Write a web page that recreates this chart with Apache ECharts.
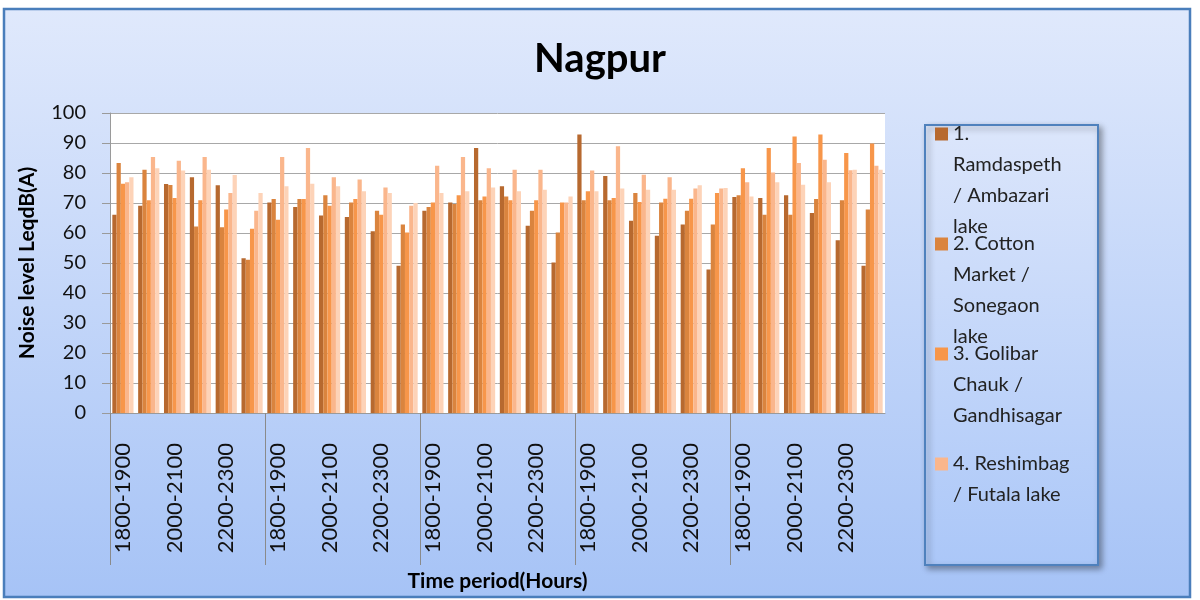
<!DOCTYPE html>
<html>
<head>
<meta charset="utf-8">
<script src="https://cdn.jsdelivr.net/npm/echarts@6/dist/echarts.min.js"></script>
<style>html,body{margin:0;padding:0;background:#fff}#c{width:1200px;height:600px}</style>
</head>
<body>
<div id="c"></div>
<script>
// ---- data ----
const timePeriods = ['1800-1900', '1900-2000', '2000-2100', '2100-2200', '2200-2300', '2300-2400'];
const groupCount = 5;
const seriesNames = [
  '1. Ramdaspeth / Ambazari lake',
  '2. Cotton Market / Sonegaon lake',
  '3. Golibar Chauk / Gandhisagar',
  '4. Reshimbag / Futala lake',
  '5.'
];
const legendLines = [
  ['1.', 'Ramdaspeth', '/ Ambazari', 'lake'],
  ['2. Cotton', 'Market /', 'Sonegaon', 'lake'],
  ['3. Golibar', 'Chauk /', 'Gandhisagar', ' '],
  ['4. Reshimbag', '/ Futala lake', ' ', ' ']
];
const series1 = [66.1, 69.1, 76.3, 78.6, 75.9, 51.6, 70.2, 68.7, 65.8, 65.3, 60.6, 49.1, 67.4, 70.2, 88.3, 75.6, 62.4, 50.2, 92.8, 79.0, 64.1, 59.1, 62.8, 47.8, 72.0, 71.7, 72.6, 66.7, 57.6, 49.1];
const series2 = [83.3, 81.1, 76.0, 62.2, 61.9, 51.1, 71.3, 71.3, 72.6, 70.2, 67.4, 62.8, 68.7, 69.7, 70.9, 72.2, 67.4, 60.2, 70.9, 70.9, 73.3, 70.2, 67.4, 62.8, 72.6, 66.1, 66.1, 71.3, 70.9, 67.8];
const series3 = [76.4, 70.9, 71.7, 70.9, 67.8, 61.4, 64.4, 71.3, 69.1, 71.3, 66.1, 60.2, 70.2, 72.6, 72.2, 70.9, 70.9, 70.2, 73.9, 71.7, 70.3, 71.4, 71.4, 73.3, 81.6, 88.3, 92.2, 92.8, 86.7, 89.8];
const series4 = [76.9, 85.3, 84.1, 85.3, 73.3, 67.4, 85.3, 88.3, 78.6, 77.8, 75.2, 69.1, 82.4, 85.3, 81.6, 81.1, 81.1, 70.2, 80.8, 88.9, 79.4, 78.6, 74.8, 74.8, 76.9, 80.2, 83.3, 84.4, 80.9, 82.4];
const series5 = [78.6, 81.6, 80.8, 81.1, 79.3, 73.3, 75.6, 76.4, 75.6, 73.9, 73.3, 70.0, 73.3, 73.9, 75.2, 73.9, 74.4, 72.2, 73.9, 74.8, 74.4, 74.4, 75.9, 75.0, 72.2, 76.9, 76.1, 76.9, 81.1, 81.1];
const yTicks = [0, 10, 20, 30, 40, 50, 60, 70, 80, 90, 100];

// ---- build ----
const categories = [];
for (let g = 0; g < groupCount; g++) timePeriods.forEach(t => categories.push(t));
const allSeries = [series1, series2, series3, series4, series5];
const colors = ['#B7692F', '#DA843E', '#F7964A', '#FAB68C', '#FDD3B8'];
const FONT = 'Lato, "Open Sans", sans-serif';
// leading blank lines so the first text line sits level with the legend marker
const legendLabels = legendLines.map(l => [' ', ' ', ' '].concat(l).join('\n'));

const chart = echarts.init(document.getElementById('c'), null, {renderer: 'canvas'});
const bgGrad = new echarts.graphic.LinearGradient(0, 0, 0, 1, [
  {offset: 0, color: '#E0E9FC'}, {offset: 1, color: '#A6C3F6'}
]);
const legendGrad = new echarts.graphic.LinearGradient(0, 0, 0, 1, [
  {offset: 0, color: '#DCE6FB'}, {offset: 1, color: '#ABC7F8'}
]);

chart.setOption({
  animation: false,
  textStyle: {fontFamily: FONT},
  graphic: [
    {type: 'rect', z: -20, shape: {x: 4, y: 9, width: 1186, height: 588},
     style: {fill: bgGrad, stroke: '#4A7EBB', lineWidth: 2.5}},
    {type: 'rect', z: -10, shape: {x: 925, y: 125, width: 173, height: 440},
     style: {fill: legendGrad, stroke: '#4F81BD', lineWidth: 2,
             shadowBlur: 6, shadowColor: 'rgba(0,0,0,0.35)', shadowOffsetX: 3, shadowOffsetY: 3}}
  ],
  title: {
    text: 'Nagpur', left: 'center', top: 34,
    textStyle: {fontFamily: FONT, fontSize: 40, fontWeight: 'bold', color: '#000'}
  },
  legend: {
    data: seriesNames.slice(0, 4),
    orient: 'vertical',
    left: 930, top: 20.5,
    itemWidth: 13, itemHeight: 13, itemGap: -107,
    icon: 'rect',
    selectedMode: false,
    formatter: name => legendLabels[seriesNames.indexOf(name)],
    textStyle: {fontFamily: FONT, fontSize: 20, lineHeight: 31, color: '#222'}
  },
  grid: [
    {left: 110, right: 315, top: 113, bottom: 187, show: true, backgroundColor: '#fff', borderWidth: 0},
    {left: 110, width: 620, top: 113, bottom: 187, show: false}
  ],
  xAxis: [
    {
      type: 'category', data: categories, gridIndex: 0,
      name: 'Time period(Hours)', nameLocation: 'middle', nameGap: 158,
      nameTextStyle: {fontFamily: FONT, fontSize: 21, fontWeight: 'bold', color: '#000'},
      axisLine: {lineStyle: {color: '#9a9a9a', width: 1}},
      axisTick: {show: false},
      axisLabel: {interval: 1, rotate: 90, fontSize: 22, margin: 30, color: '#111', fontFamily: FONT}
    },
    {
      type: 'value', gridIndex: 1, min: 0, max: 24, interval: 6,
      axisLine: {show: false}, axisLabel: {show: false}, splitLine: {show: false},
      axisTick: {show: true, length: 152, lineStyle: {color: '#8a8a8a', width: 1}}
    }
  ],
  yAxis: [
    {
      type: 'value', gridIndex: 0, min: 0, max: 100, interval: 10,
      name: 'Noise level LeqdB(A)', nameLocation: 'middle', nameGap: 72,
      nameTextStyle: {fontFamily: FONT, fontSize: 21, fontWeight: 'bold', color: '#000'},
      axisLine: {show: true, lineStyle: {color: '#9a9a9a'}},
      axisTick: {show: true, length: 8, lineStyle: {color: '#9a9a9a'}},
      splitLine: {lineStyle: {color: '#a8a8a8', width: 1}},
      axisLabel: {fontSize: 20, margin: 24, color: '#111', fontFamily: FONT,
                  formatter: v => yTicks.includes(v) ? String(v) : ''}
    },
    {type: 'value', gridIndex: 1, show: false}
  ],
  series: allSeries.map((d, i) => ({
    name: seriesNames[i], type: 'bar', xAxisIndex: 0, yAxisIndex: 0, data: d,
    barGap: '0%', barCategoryGap: '18%',
    itemStyle: {color: colors[i]}
  }))
});
</script>
</body>
</html>
